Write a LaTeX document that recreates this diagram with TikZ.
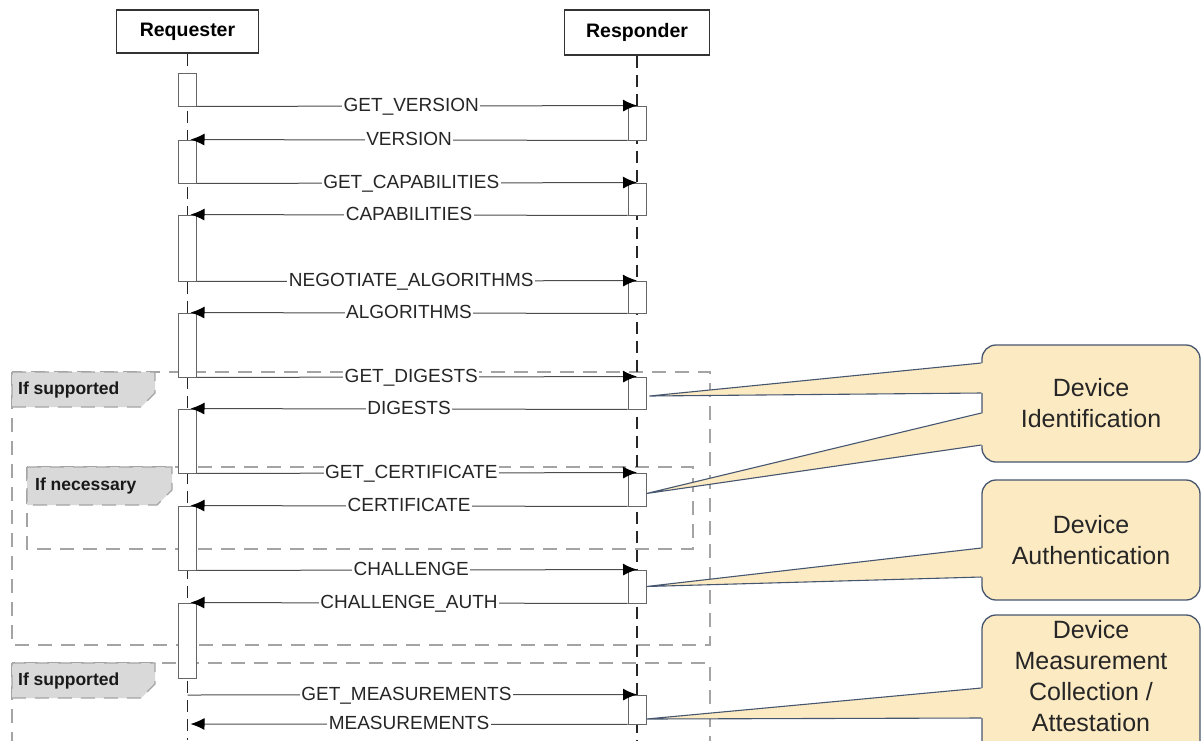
\documentclass[tikz,border=0pt]{standalone}
\usepackage{fontspec}
\setmainfont{Liberation Sans}
\usetikzlibrary{positioning, calc, arrows.meta, shapes}

\definecolor{framegray}{HTML}{A4A4A4}
\definecolor{tabgray}{HTML}{D9D9D9}
\definecolor{callfill}{HTML}{FCEAC2}
\definecolor{callline}{HTML}{46566F}

% callout pointer: box, tip, top and bottom of the base
\newcommand{\pointer}[4]{%
  \fill[callfill] #2 -- ($(#1.west |- 0,#3)+(2.5,0)$) -- ($(#1.west |- 0,#4)+(2.5,0)$) -- cycle;
  \draw[wedge] (#1.west |- 0,#3) -- #2 -- (#1.west |- 0,#4);}

\begin{document}
\begin{tikzpicture}[x=1pt, y=-1pt,
    head/.style={draw=black!80, line width=1.2pt, fill=white, font=\fontsize{19.5}{22}\selectfont\bfseries},
    life/.style={draw=black!85, line width=1.5pt, dash pattern=on 12pt off 7pt},
    bar/.style={draw=black!60, fill=white, line width=0.9pt, minimum width=18pt, inner sep=0pt},
    msg/.style={draw=black!70, line width=1pt, -{Latex[length=14pt, width=12pt, black]}},
    lbl/.style={fill=white, inner xsep=1.5pt, inner ysep=0pt, text height=13.6pt, text depth=0pt,
                yshift=1.5pt, font=\fontsize{19}{22}\selectfont, text=black!85},
    frame/.style={draw=framegray, line width=1.3pt, dash pattern=on 14pt off 9pt},
    tab/.style={frame, fill=tabgray},
    tabtext/.style={anchor=west, inner sep=0pt, font=\fontsize{17.5}{20}\selectfont\bfseries, text=black!90},
    callout/.style={draw=callline, fill=callfill, line width=1.3pt, rounded corners=14pt,
                    minimum width=218pt, align=center, font=\fontsize{25}{31}\selectfont, text=black!85},
    wedge/.style={draw=callline, line width=1.1pt}]

  \useasboundingbox (0,0) rectangle (1202,740);
  \clip (0,0) rectangle (1202,740);

  % optional fragments
  \draw[frame] (12,372) rectangle (710,645);
  \draw[frame] (27,467) rectangle (693,549);
  \draw[frame] (12,663) rectangle (710,760);
  \draw[tab] (12,372) -- (155,372) -- (155,393) -- (141,407) -- (12,407) -- cycle;
  \draw[tab] (27,467) -- (172,467) -- (172,490) -- (157,505) -- (27,505) -- cycle;
  \draw[tab] (12,663) -- (155,663) -- (155,684) -- (141,698) -- (12,698) -- cycle;
  \node[tabtext] (ifsup1) at (18,390) {If supported};
  \node[tabtext] (ifnec) at (35,486) {If necessary};
  \node[tabtext] (ifsup2) at (18,681) {If supported};

  % lifelines
  \node[head, minimum width=142pt, minimum height=43pt] (req) at (187.5,31.5) {Requester};
  \node[head, minimum width=145pt, minimum height=45pt] (resp) at (637,32.5) {Responder};
  \coordinate (reqend) at (187.5,740);
  \coordinate (respend) at (637,740);
  \draw[life] (req.south) -- (reqend);
  \draw[life] (resp.south) -- (respend);

  % activation bars
  \foreach \nm/\ya/\yb in {q1/73/106, q2/140/183, q3/215/281, q4/313/377, q5/409/473, q6/506/570, q7/603/678}
    \node[bar, minimum height={(\yb-\ya)*1pt}] (\nm) at (187.5,{(\ya+\yb)/2}) {};
  \foreach \nm/\ya/\yb in {r1/106/140, r2/183/215, r3/281/313, r4/377/409, r5/473/506, r6/570/603, r7/695/724}
    \node[bar, minimum height={(\yb-\ya)*1pt}] (\nm) at (637,{(\ya+\yb)/2}) {};

  % messages
  \draw[msg] (q1.south east) -- node[lbl, pos=0.487] (getver) {GET\_VERSION} (r1.north);
  \draw[msg] (r1.south west) -- node[lbl] (ver) {VERSION} ([xshift=3pt]q2.north);
  \draw[msg] (q2.south east) -- node[lbl, pos=0.487] (getcap) {GET\_CAPABILITIES} (r2.north);
  \draw[msg] (r2.south west) -- node[lbl] (cap) {CAPABILITIES} ([xshift=3pt]q3.north);
  \draw[msg] (q3.south east) -- node[lbl, pos=0.487] (negalg) {NEGOTIATE\_ALGORITHMS} (r3.north);
  \draw[msg] (r3.south west) -- node[lbl] (alg) {ALGORITHMS} ([xshift=3pt]q4.north);
  \draw[msg] (q4.south east) -- node[lbl, pos=0.487] (getdig) {GET\_DIGESTS} (r4.north);
  \draw[msg] (r4.south west) -- node[lbl] (dig) {DIGESTS} ([xshift=3pt]q5.north);
  \draw[msg] (q5.south east) -- node[lbl, pos=0.487] (getcert) {GET\_CERTIFICATE} (r5.north);
  \draw[msg] (r5.south west) -- node[lbl] (cert) {CERTIFICATE} ([xshift=3pt]q6.north);
  \draw[msg] (q6.south east) -- node[lbl, pos=0.487] (chal) {CHALLENGE} (r6.north);
  \draw[msg] (r6.south west) -- node[lbl] (chalauth) {CHALLENGE\_AUTH} ([xshift=3pt]q7.north);
  \coordinate (m0) at (187.5,695);
  \coordinate (m1) at (190.5,724);
  \draw[msg] (m0) -- node[lbl, pos=0.487] (getmeas) {GET\_MEASUREMENTS} (r7.north);
  \draw[msg] (r7.south west) -- node[lbl] (meas) {MEASUREMENTS} (m1);

  % callouts
  \node[callout, minimum height=117pt] (ident) at (1091,403.5) {Device\\Identification};
  \node[callout, minimum height=120pt] (auth) at (1091,540) {Device\\Authentication};
  \node[callout, minimum height=150pt] (attest) at (1091,690) {};
  \node[align=center, font=\fontsize{25}{31}\selectfont, text=black!85] (attesttxt) at (1091,676)
    {Device\\Measurement\\Collection /\\Attestation};
  \pointer{ident}{([xshift=3pt,yshift=-3pt]r4.east)}{363}{393}
  \pointer{ident}{([yshift=-4pt]r5.east)}{413}{445}
  \pointer{auth}{(r6.east)}{548}{577}
  \pointer{attest}{([yshift=-9.5pt]r7.east)}{688}{718}
\end{tikzpicture}
\end{document}
